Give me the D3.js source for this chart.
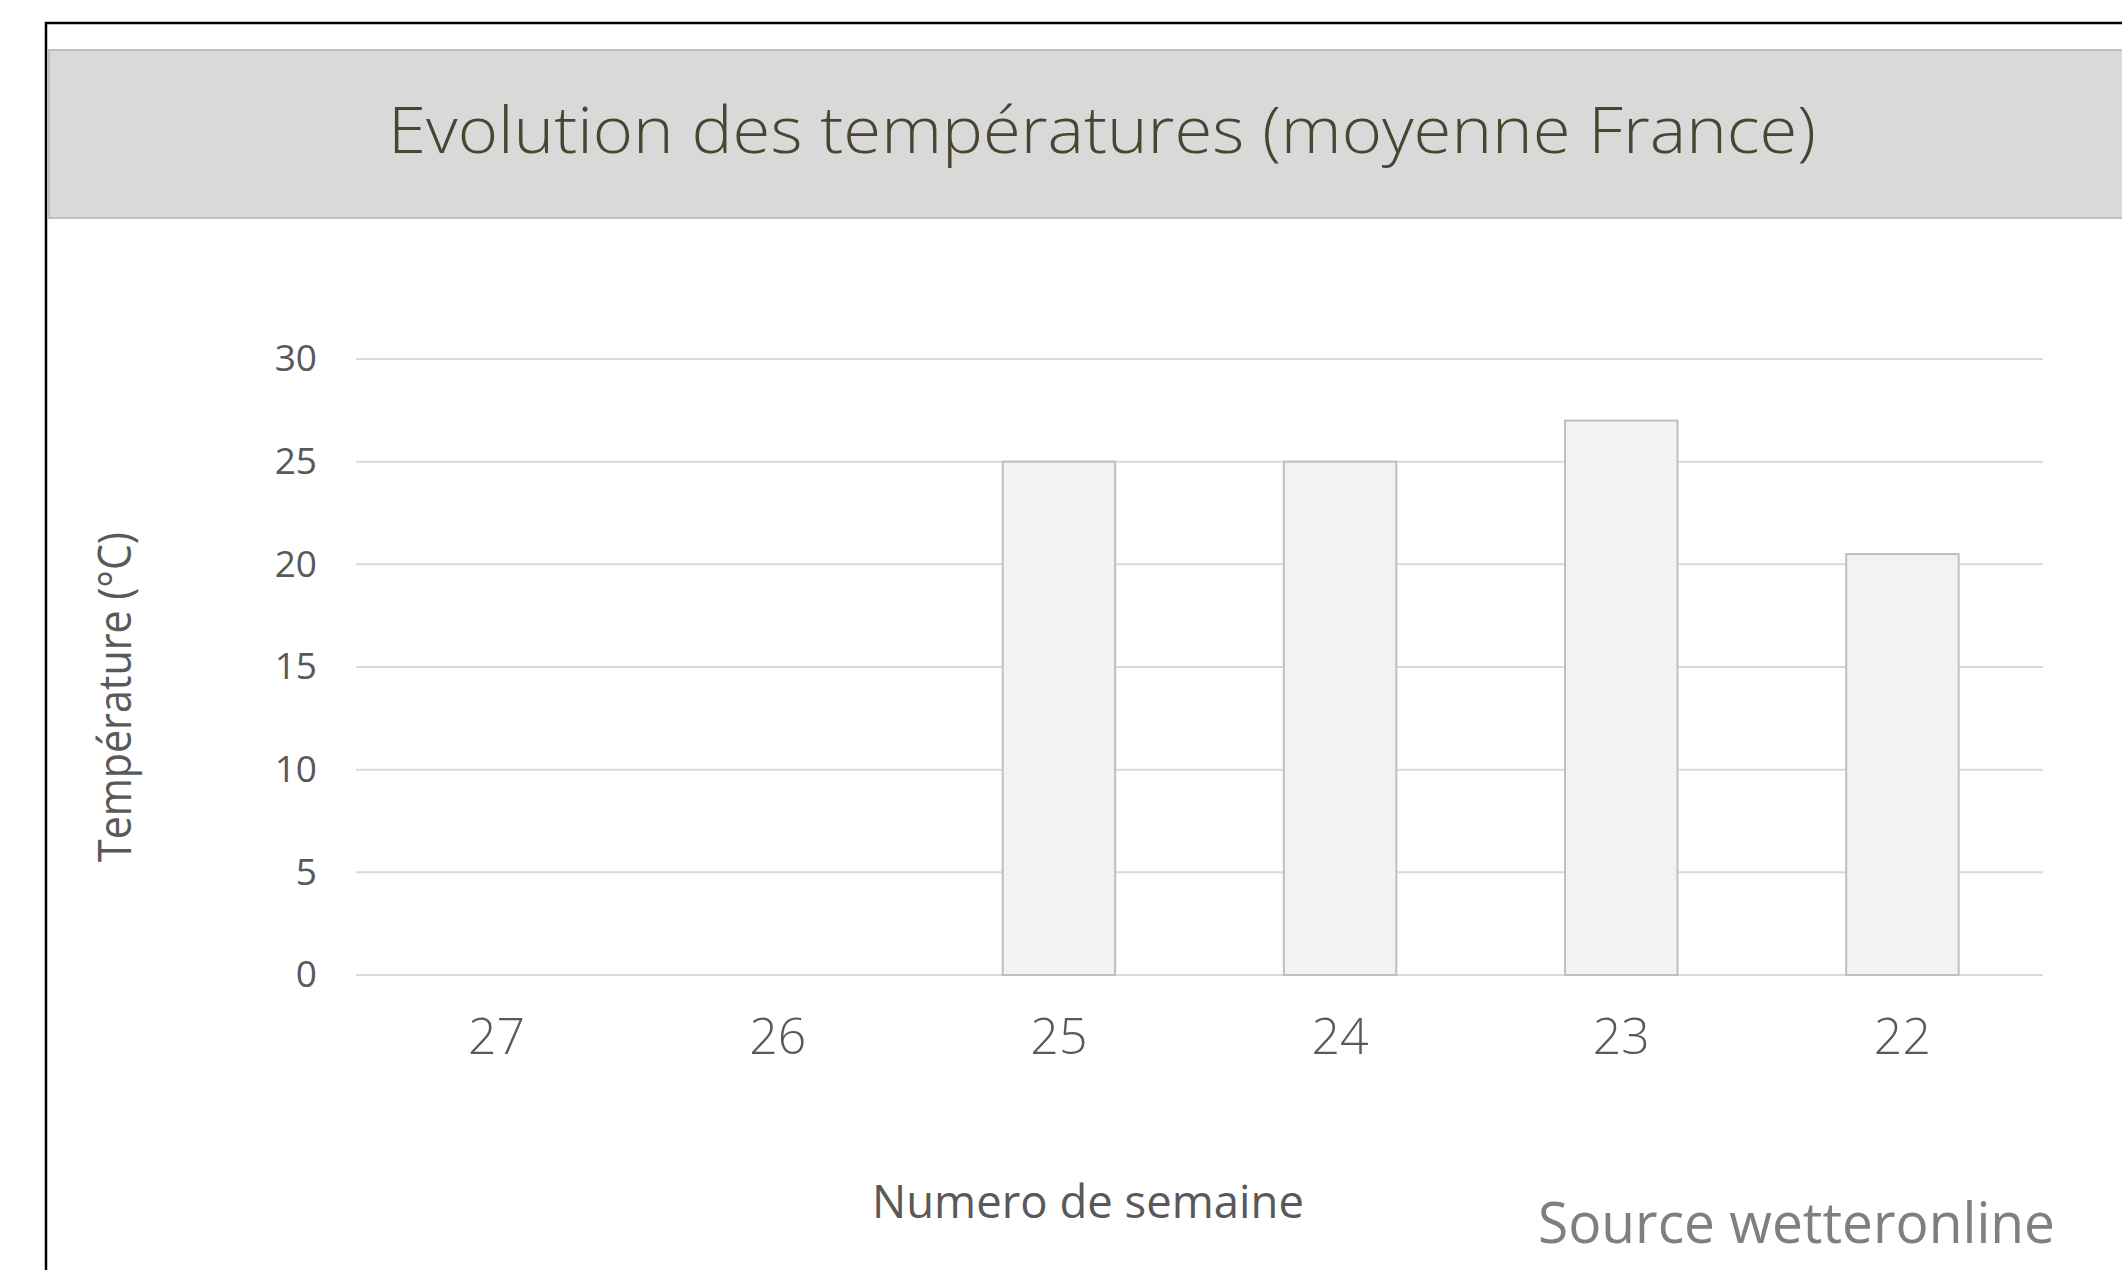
<!DOCTYPE html>
<html>
<head>
<meta charset="utf-8">
<script src="https://cdn.jsdelivr.net/npm/d3@7"></script>
<style>
  html, body { margin: 0; padding: 0; background: #ffffff; }
  svg { display: block; }
</style>
</head>
<body>
<svg id="chart" width="2122" height="1270"></svg>
<script>
// ---- data ----
const weeks = ["27", "26", "25", "24", "23", "22"];
const temperatures = [null, null, 25, 25, 27, 20.5];
const yTicks = [0, 5, 10, 15, 20, 25, 30];
const titleText = "Evolution des températures (moyenne France)";
const xTitle = "Numero de semaine";
const yTitle = "Température (°C)";
const sourceText = "Source wetteronline";

// ---- layout ----
const W = 2122, H = 1270;
const plot = { left: 356, right: 2043, top: 359, bottom: 975 };
const svg = d3.select("#chart");

// outer frame
svg.append("rect")
  .attr("x", 46).attr("y", 23)
  .attr("width", 2300).attr("height", 1500)
  .attr("fill", "#ffffff")
  .attr("stroke", "#000000").attr("stroke-width", 2.5);

// title band
svg.append("rect")
  .attr("x", 49).attr("y", 50)
  .attr("width", 2300).attr("height", 168)
  .attr("fill", "#d9d9d9")
  .attr("stroke", "#bfbfbf").attr("stroke-width", 2);

svg.append("text")
  .attr("x", 1102).attr("y", 153)
  .attr("text-anchor", "middle")
  .attr("font-family", "'Open Sans', sans-serif")
  .attr("font-weight", 300)
  .attr("font-size", 64)
  .attr("fill", "#4a4530")
  .attr("textLength", 1428)
  .attr("lengthAdjust", "spacingAndGlyphs")
  .text(titleText);

// scales
const x = d3.scaleBand()
  .domain(weeks)
  .range([plot.left, plot.right])
  .paddingInner(0.6)
  .paddingOuter(0.3);

const y = d3.scaleLinear()
  .domain([0, 30])
  .range([plot.bottom, plot.top]);

// gridlines
svg.append("g")
  .selectAll("line")
  .data(yTicks)
  .join("line")
  .attr("x1", plot.left).attr("x2", plot.right)
  .attr("y1", d => y(d)).attr("y2", d => y(d))
  .attr("stroke", "#d9d9d9").attr("stroke-width", 2);

// y axis labels
const yAxis = svg.append("g")
  .attr("transform", `translate(${plot.left - 39},0)`)
  .call(d3.axisLeft(y).tickValues(yTicks).tickSize(0).tickPadding(0));
yAxis.select(".domain").remove();
yAxis.selectAll("text")
  .attr("font-family", "'Open Sans', sans-serif")
  .attr("font-size", 37)
  .attr("fill", "#595959");

// bars
const barData = weeks.map((w, i) => ({ week: w, value: temperatures[i] }))
  .filter(d => d.value !== null);

svg.append("g")
  .selectAll("rect")
  .data(barData)
  .join("rect")
  .attr("x", d => x(d.week))
  .attr("y", d => y(d.value))
  .attr("width", x.bandwidth())
  .attr("height", d => y(0) - y(d.value))
  .attr("fill", "#f2f2f2")
  .attr("stroke", "#bfbfbf")
  .attr("stroke-width", 2);

// x axis labels
const xAxis = svg.append("g")
  .attr("transform", `translate(0,${plot.bottom})`)
  .call(d3.axisBottom(x).tickSize(0).tickPadding(0));
xAxis.select(".domain").remove();
xAxis.selectAll("text")
  .attr("dy", null)
  .attr("y", 79)
  .attr("font-family", "'Open Sans', sans-serif")
  .attr("font-weight", 300)
  .attr("font-size", 50)
  .attr("fill", "#595959");

// axis titles
svg.append("text")
  .attr("x", 1088).attr("y", 1218)
  .attr("text-anchor", "middle")
  .attr("font-family", "'Open Sans', sans-serif")
  .attr("font-size", 45)
  .attr("fill", "#595959")
  .attr("textLength", 432)
  .attr("lengthAdjust", "spacingAndGlyphs")
  .text(xTitle);

svg.append("text")
  .attr("transform", "translate(131,697) rotate(-90)")
  .attr("text-anchor", "middle")
  .attr("font-family", "'Open Sans', sans-serif")
  .attr("font-size", 45)
  .attr("fill", "#595959")
  .attr("textLength", 330)
  .attr("lengthAdjust", "spacingAndGlyphs")
  .text(yTitle);

// source
svg.append("text")
  .attr("x", 1538).attr("y", 1243)
  .attr("font-family", "'Open Sans', sans-serif")
  .attr("font-size", 56)
  .attr("fill", "#7f7f7f")
  .attr("textLength", 517)
  .attr("lengthAdjust", "spacingAndGlyphs")
  .text(sourceText);
</script>
</body>
</html>
